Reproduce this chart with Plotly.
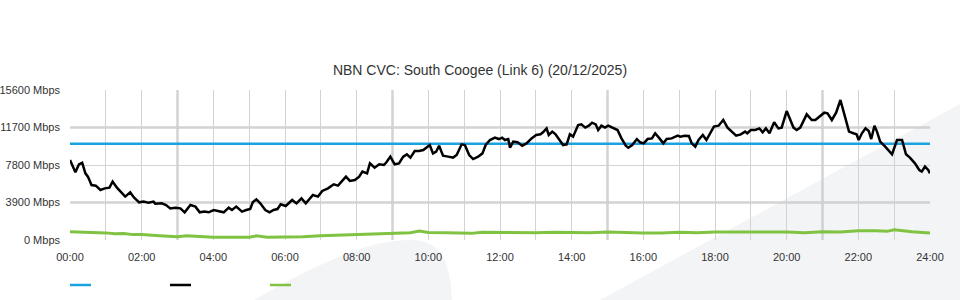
import plotly.graph_objects as go

# ---------------- data ----------------
title_text = "NBN CVC: South Coogee (Link 6) (20/12/2025)"

y_tick_vals = [0, 3900, 7800, 11700, 15600]
y_tick_text = ["0 Mbps", "3900 Mbps", "7800 Mbps", "11700 Mbps", "15600 Mbps"]
x_tick_vals = list(range(0, 25, 2))
x_tick_text = ["%02d:00" % h for h in x_tick_vals]

capacity_hours = [0, 24]
capacity_mbps = [10000, 10000]

black_hours = [
    0.00, 0.15, 0.25, 0.34, 0.43, 0.50, 0.60, 0.72, 0.85, 0.97, 1.10, 1.19, 1.31, 1.42, 1.54,
    1.68, 1.79, 1.93, 2.05, 2.19, 2.33, 2.38, 2.47, 2.56, 2.68, 2.80, 2.94, 3.08, 3.20, 3.36,
    3.50, 3.62, 3.75, 3.87, 4.01, 4.15, 4.29, 4.43, 4.52, 4.64, 4.80, 4.92, 5.03, 5.10, 5.20,
    5.31, 5.45, 5.57, 5.68, 5.79, 5.88, 6.02, 6.20, 6.32, 6.46, 6.58, 6.67, 6.78, 6.92, 7.04,
    7.20, 7.36, 7.48, 7.58, 7.70, 7.81, 7.95, 8.07, 8.16, 8.29, 8.37, 8.50, 8.63, 8.76, 8.83,
    8.94, 9.06, 9.18, 9.30, 9.40, 9.50, 9.62, 9.74, 9.86, 9.97, 10.04, 10.13, 10.22, 10.30, 10.41,
    10.55, 10.69, 10.79, 10.93, 11.02, 11.14, 11.25, 11.39, 11.51, 11.60, 11.72, 11.86, 11.97, 12.06, 12.14,
    12.23, 12.28, 12.37, 12.49, 12.62, 12.74, 12.88, 13.01, 13.13, 13.20, 13.30, 13.36, 13.46, 13.55, 13.67,
    13.76, 13.86, 13.95, 14.04, 14.18, 14.27, 14.38, 14.48, 14.57, 14.67, 14.74, 14.83, 14.93, 15.02, 15.16,
    15.28, 15.39, 15.51, 15.58, 15.69, 15.82, 15.91, 16.01, 16.12, 16.24, 16.33, 16.45, 16.56, 16.65, 16.79,
    16.96, 17.03, 17.15, 17.27, 17.35, 17.45, 17.54, 17.66, 17.76, 17.88, 17.97, 18.10, 18.23, 18.35, 18.47,
    18.59, 18.72, 18.84, 18.90, 19.00, 19.12, 19.24, 19.33, 19.42, 19.52, 19.65, 19.77, 19.86, 20.00, 20.10,
    20.19, 20.28, 20.38, 20.56, 20.70, 20.80, 20.94, 21.05, 21.14, 21.26, 21.38, 21.50, 21.61, 21.74, 21.86,
    21.95, 22.01, 22.10, 22.20, 22.29, 22.36, 22.45, 22.52, 22.61, 22.75, 22.94, 23.08, 23.22, 23.33, 23.44,
    23.58, 23.70, 23.77, 23.86, 23.95, 24.00,
]
black_mbps = [
    8320, 7040, 7870, 8040, 6930, 6590, 5720, 5650, 5200, 5370, 5440, 6070, 5440, 5030, 4510,
    4960, 4400, 3920, 3990, 3880, 3990, 3780, 3810, 3810, 3640, 3290, 3360, 3290, 2880, 3640,
    3470, 2880, 2950, 2880, 3120, 3020, 2880, 3360, 3120, 3470, 2950, 3120, 3220, 3920, 4230,
    3810, 3120, 2880, 3120, 3220, 3710, 3540, 4160, 3810, 4330, 3810, 4160, 4680, 4510, 5100,
    5370, 5790, 5650, 6070, 6590, 6140, 6240, 6590, 7110, 6930, 7970, 7520, 7870, 7800, 8080,
    8670, 7870, 7970, 8670, 8910, 8570, 9260, 9260, 9360, 9710, 9880, 9010, 9190, 9810, 8770,
    8670, 8570, 8840, 9950, 9880, 8840, 8420, 8670, 9010, 9880, 10400, 10640, 10500, 10640, 10400,
    10500, 9600, 10230, 10160, 9810, 10050, 10570, 10920, 10990, 11200, 11610, 10920, 11270, 10990, 10300,
    9880, 9950, 10990, 10750, 11960, 12030, 11690, 11890, 12200, 12030, 11440, 11890, 11690, 11890, 11690,
    11440, 10570, 9810, 9600, 9880, 10500, 10160, 10050, 10500, 10570, 11100, 10570, 10050, 10500, 10570,
    10850, 10750, 10850, 10820, 10050, 9710, 10400, 10920, 10400, 11200, 11790, 11890, 12480, 11690, 11270,
    10850, 10990, 11270, 11100, 11440, 11440, 11610, 11200, 11610, 11100, 12240, 11610, 11690, 13410, 12480,
    11690, 11440, 11690, 13070, 12480, 12480, 12900, 13240, 13170, 12480, 13240, 14560, 13070, 11270, 11100,
    10990, 10400, 11100, 11610, 11340, 10500, 11890, 11270, 10230, 9710, 8910, 10400, 10400, 8910, 8570,
    7970, 7280, 7110, 7630, 7280, 6930,
]

green_hours = [
    0.0, 0.5, 1.0, 1.25, 1.5, 1.75, 2.0, 2.5, 3.0, 3.25, 3.5, 4.0, 4.5, 5.0, 5.2, 5.5, 6.0, 6.5,
    7.0, 7.5, 8.0, 8.5, 9.0, 9.5, 9.75, 10.0, 10.5, 11.0, 11.2, 11.5, 12.0, 12.5, 13.0, 13.5,
    14.0, 14.5, 15.0, 15.5, 16.0, 16.5, 17.0, 17.5, 18.0, 18.5, 19.0, 19.5, 20.0, 20.5, 21.0,
    21.5, 22.0, 22.5, 22.8, 23.0, 23.5, 24.0,
]
green_mbps = [
    870, 830, 740, 640, 680, 560, 560, 450, 350, 450, 380, 290, 280, 280, 430, 280, 300, 330,
    450, 520, 590, 620, 690, 760, 930, 780, 760, 760, 690, 800, 770, 800, 760, 800,
    770, 760, 820, 740, 720, 730, 800, 760, 830, 820, 830, 820, 830, 760, 870,
    840, 960, 960, 900, 1060, 850, 720,
]

# ---------------- figure ----------------
fig = go.Figure()

fig.add_trace(go.Scatter(x=green_hours, y=green_mbps, mode="lines",
                         line=dict(color="#80c342", width=3), showlegend=False))
fig.add_trace(go.Scatter(x=capacity_hours, y=capacity_mbps, mode="lines",
                         line=dict(color="#1ba3e0", width=2.5), showlegend=False))
fig.add_trace(go.Scatter(x=black_hours, y=black_mbps, mode="lines",
                         line=dict(color="#000000", width=2.5), showlegend=False))

W, H = 960, 300
L, R, T, B = 70, 30, 90, 60
pw, ph = W - L - R, H - T - B


def px(xp):
    return (xp - L) / pw


def py(yp):
    return (H - B - yp) / ph


shapes = []
# watermark swoosh (paper coordinates)
wm = "#f3f4f6"
shapes.append(dict(type="path", xref="paper", yref="paper", layer="below",
                   path="M %f,%f L %f,%f L %f,%f Z" % (px(600), py(300), px(962), py(103), px(962), py(300)),
                   fillcolor=wm, line=dict(width=0)))
shapes.append(dict(type="path", xref="paper", yref="paper", layer="below",
                   path="M %f,%f C %f,%f %f,%f %f,%f C %f,%f %f,%f %f,%f Z" % (
                       px(254), py(300), px(320), py(262), px(370), py(240), px(410), py(240),
                       px(442), py(240), px(450), py(262), px(452), py(300)),
                   fillcolor=wm, line=dict(width=0)))

# darker major gridlines
for hx in [3, 9, 15, 21]:
    shapes.append(dict(type="line", xref="x", yref="paper", x0=hx, x1=hx, y0=0, y1=1,
                       layer="between", line=dict(color="#bdbdbd", width=2)))
for yv in [3900, 11700]:
    shapes.append(dict(type="line", xref="paper", yref="y", x0=0, x1=1, y0=yv, y1=yv,
                       layer="between", line=dict(color="#bdbdbd", width=2)))

# legend swatches
for x0, col in [(70, "#1ba3e0"), (170, "#000000"), (270, "#80c342")]:
    shapes.append(dict(type="line", xref="paper", yref="paper",
                       x0=px(x0), x1=px(x0 + 21), y0=py(285), y1=py(285),
                       line=dict(color=col, width=2.5)))

fig.update_layout(
    width=W, height=H,
    margin=dict(l=L, r=R, t=T, b=B, autoexpand=False),
    paper_bgcolor="white",
    plot_bgcolor="rgba(0,0,0,0)",
    font=dict(family="Liberation Sans, Arial, sans-serif", size=11, color="#333333"),
    title=dict(text=title_text, x=0.5, xanchor="center", y=1 - 70 / H, yanchor="middle",
               font=dict(size=14, color="#333333")),
    showlegend=False,
    shapes=shapes,
    xaxis=dict(range=[0, 24], tickvals=x_tick_vals, ticktext=x_tick_text,
               showgrid=False, zeroline=False, showline=False, ticks="", ticklen=0,
               ticklabelstandoff=9, automargin=False,
               minor=dict(dtick=1, tick0=0, showgrid=True, gridcolor="#d3d3d3", gridwidth=1),
               fixedrange=True),
    yaxis=dict(range=[0, 15600], tickvals=y_tick_vals, ticktext=y_tick_text,
               showgrid=True, gridcolor="#d3d3d3", gridwidth=1, zeroline=False,
               showline=False, ticks="", ticklen=0, ticklabelstandoff=9, automargin=False,
               fixedrange=True),
)

fig.write_html("out.html")
